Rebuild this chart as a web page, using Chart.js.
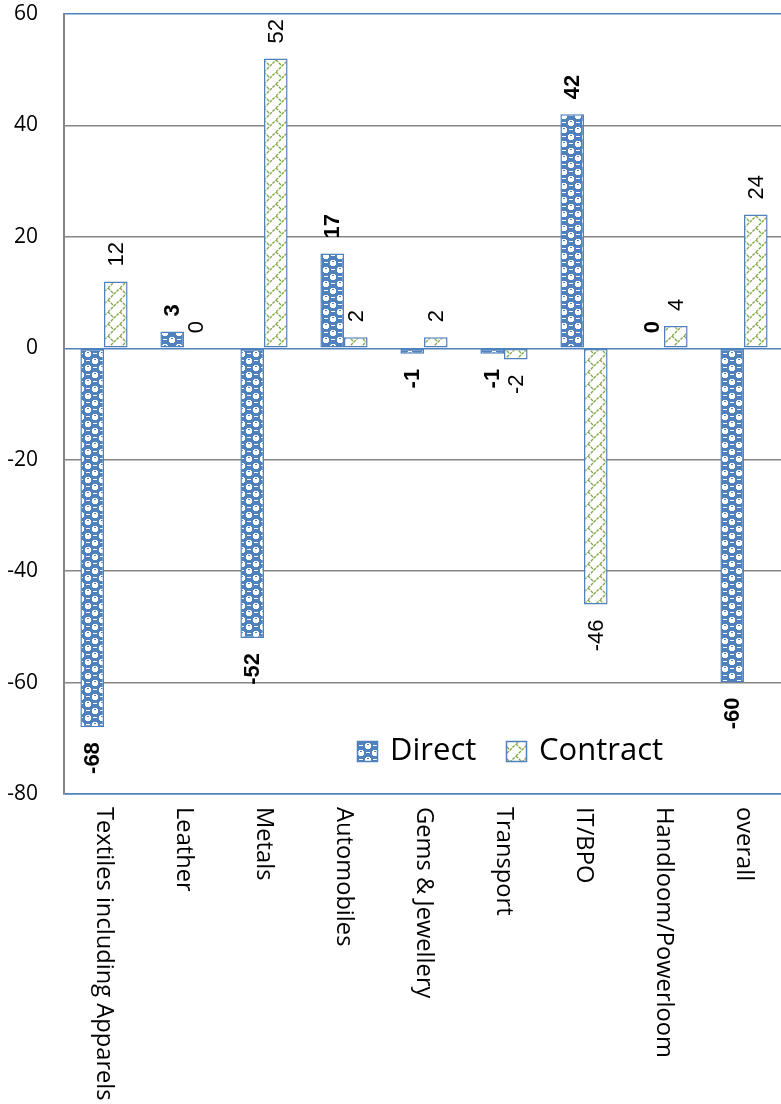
<!DOCTYPE html>
<html>
<head>
<meta charset="utf-8">
<script src="https://cdn.jsdelivr.net/npm/chart.js@4.4.1/dist/chart.umd.min.js"></script>
<style>
  html, body { margin: 0; padding: 0; background: #fff; overflow: hidden; }
  #wrap { width: 787px; height: 1104px; }
</style>
</head>
<body>
<div id="wrap"><canvas id="c" width="787" height="1104"></canvas></div>
<script>
const categories = [
  'Textiles including Apparels', 'Leather', 'Metals', 'Automobiles',
  'Gems & Jewellery', 'Transport', 'IT/BPO', 'Handloom/Powerloom', 'overall'
];
const seriesNames = ['Direct', 'Contract'];
const directValues = [-68, 3, -52, 17, -1, -1, 42, 0, -60];
const contractValues = [12, 0, 52, 2, 2, -2, -46, 4, 24];
const yMin = -80;
const yMax = 60;
const yStep = 20;

const BLUE = '#4F81BD';
const GREEN = '#86A94A';
const GRID = '#868686';

const canvas = document.getElementById('c');
const ctx = canvas.getContext('2d');

// blue checkered fill for the Direct series
function checkerPattern() {
  const t = document.createElement('canvas');
  t.width = 14; t.height = 14;
  const g = t.getContext('2d');
  g.fillStyle = BLUE; g.fillRect(0, 0, 14, 14);
  g.fillStyle = '#ffffff';
  g.fillRect(1, 2, 6, 4);
  g.fillRect(2, 1, 4, 6);
  g.fillRect(8, 9, 6, 4);
  g.fillRect(9, 8, 4, 6);
  g.fillRect(9, 3, 4, 1);
  g.fillRect(2, 10, 4, 1);
  g.fillStyle = BLUE;
  g.fillRect(3, 2, 2, 1);
  g.fillRect(10, 9, 2, 1);
  return ctx.createPattern(t, 'repeat');
}

// white fill with green zigzag diagonals for the Contract series
function zigzagPattern() {
  const t = document.createElement('canvas');
  t.width = 12; t.height = 12;
  const g = t.getContext('2d');
  g.fillStyle = '#ffffff'; g.fillRect(0, 0, 12, 12);
  g.strokeStyle = GREEN;
  g.lineWidth = 1.4;
  g.setLineDash([3, 1]);
  g.beginPath();
  g.moveTo(0, 12); g.lineTo(12, 0);
  g.moveTo(0, 0); g.lineTo(6, 6);
  g.stroke();
  return ctx.createPattern(t, 'repeat');
}

const fills = [checkerPattern(), zigzagPattern()];

// value labels at the outer end of each bar, rotated to read upward
const valueLabels = {
  id: 'valueLabels',
  afterDatasetsDraw(chart) {
    const c = chart.ctx;
    chart.data.datasets.forEach((ds, di) => {
      const meta = chart.getDatasetMeta(di);
      c.save();
      c.font = (di === 0 ? 'bold ' : '') + '22px "Liberation Sans", Arial, sans-serif';
      c.fillStyle = '#000';
      c.textAlign = 'center';
      c.textBaseline = 'middle';
      meta.data.forEach((bar, i) => {
        const v = ds.data[i];
        const txt = String(v);
        const w = c.measureText(txt).width;
        const gap = 15;
        const cy = v >= 0 ? bar.y - gap - w / 2 : bar.y + gap + w / 2;
        c.save();
        c.translate(bar.x, cy);
        c.rotate(-Math.PI / 2);
        c.fillText(txt, 0, 1);
        c.restore();
      });
      c.restore();
    });
  }
};

// category names below the plot, rotated to read downward
const categoryLabels = {
  id: 'categoryLabels',
  afterDraw(chart) {
    const c = chart.ctx;
    const xs = chart.scales.x;
    c.save();
    c.font = '23.7px "Open Sans", sans-serif';
    c.fillStyle = '#000';
    c.textAlign = 'left';
    c.textBaseline = 'middle';
    chart.data.labels.forEach((lab, i) => {
      const x = xs.getPixelForValue(i);
      c.save();
      c.translate(x, xs.top + 13);
      c.rotate(Math.PI / 2);
      c.fillText(lab, 0, 0);
      c.restore();
    });
    c.restore();
  }
};

// legend drawn inside the plot area, lower right
const innerLegend = {
  id: 'innerLegend',
  afterDraw(chart) {
    const c = chart.ctx;
    const items = [
      { box: 357, text: 390 },
      { box: 506, text: 539 }
    ];
    c.save();
    c.font = '31px "Open Sans", sans-serif';
    c.textBaseline = 'middle';
    chart.data.datasets.forEach((ds, i) => {
      const it = items[i];
      const top = 741, size = 21;
      c.fillStyle = '#ffffff';
      c.fillRect(it.box, top, size, size);
      c.fillStyle = ds.backgroundColor;
      c.fillRect(it.box, top, size, size);
      c.strokeStyle = BLUE;
      c.lineWidth = 1.5;
      c.strokeRect(it.box + 0.5, top + 0.5, size - 1, size - 1);
      c.fillStyle = '#000';
      c.fillText(ds.label, it.text, top + size / 2);
    });
    c.restore();
  }
};

new Chart(canvas, {
  type: 'bar',
  data: {
    labels: categories,
    datasets: [
      {
        label: seriesNames[0],
        data: directValues,
        backgroundColor: fills[0],
        borderColor: BLUE,
        borderWidth: 1.5,
        borderSkipped: false
      },
      {
        label: seriesNames[1],
        data: contractValues,
        backgroundColor: fills[1],
        borderColor: BLUE,
        borderWidth: 1.5,
        borderSkipped: false
      }
    ]
  },
  options: {
    responsive: false,
    animation: false,
    devicePixelRatio: 1,
    layout: { padding: { top: 14, right: 3, left: 0, bottom: 0 } },
    datasets: { bar: { barPercentage: 1, categoryPercentage: 0.59 } },
    plugins: { legend: { display: false }, tooltip: { enabled: false } },
    scales: {
      x: {
        ticks: { display: false },
        grid: { display: false },
        border: { display: true, color: BLUE, width: 1.5 },
        afterFit(s) { s.height = 310; }
      },
      y: {
        min: yMin,
        max: yMax,
        ticks: {
          stepSize: yStep,
          padding: 26,
          color: '#000',
          font: { family: '"Open Sans", sans-serif', size: 21 }
        },
        grid: {
          drawTicks: false,
          lineWidth: 1.5,
          color: (cx) => {
            const v = cx.tick ? cx.tick.value : null;
            return (v === 0 || v === yMax || v === yMin) ? BLUE : GRID;
          }
        },
        border: { display: true, color: GRID, width: 2 },
        afterFit(s) {
          s.width = 64;
          s.paddingTop = 0;
          s.paddingBottom = 0;
        }
      }
    }
  },
  plugins: [valueLabels, categoryLabels, innerLegend]
});
</script>
</body>
</html>
